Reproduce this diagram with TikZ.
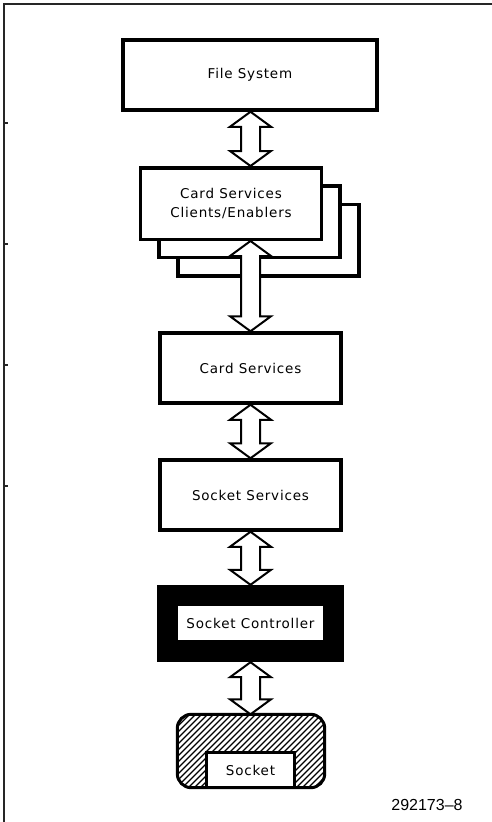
\documentclass[tikz,border=0pt]{standalone}
\usepackage{fontspec}
\setmainfont{Liberation Sans}
\newfontfamily\boxfont{DejaVu Sans}[LetterSpace=6]
\usetikzlibrary{calc}

\tikzset{
  frame/.style={draw=black!85, line width=1.5pt},
  box/.style={draw, fill=white, line width=3.5pt, inner sep=0pt,
    font=\boxfont\fontsize{13.5}{18.5}\selectfont, align=center},
  dbl/.style={draw, fill=white, line width=2pt, line join=miter},
  hatch/.style={line width=1.3pt},
}

% hollow double-headed arrow between the bottom of #1 and the top of #2
\newcommand\dblink[2]{%
  \draw[dbl] let \p1=(#1.south), \p2=(#2.north), \p3=(axis) in
    (\x3,\y1) -- (\x3+20.5pt,\y1-15pt) -- (\x3+9.5pt,\y1-15pt)
    -- (\x3+9.5pt,\y2+15pt) -- (\x3+20.5pt,\y2+15pt) -- (\x3,\y2)
    -- (\x3-20.5pt,\y2+15pt) -- (\x3-9.5pt,\y2+15pt)
    -- (\x3-9.5pt,\y1-15pt) -- (\x3-20.5pt,\y1-15pt) -- cycle;}

\begin{document}
\begin{tikzpicture}[x=1pt, y=-1pt]
\useasboundingbox (0,0) rectangle (492,822);

% page frame with margin ticks
\draw[frame] (4,822) -- (4,4) -- (492,4);
\foreach \t in {123,244,365,486} \draw[frame] (4,\t) -- (7.5,\t);

\coordinate (axis) at (250.5,0);

\node[box, minimum width=254pt, minimum height=70pt] (fs) at (250,75) {File System};

% stacked client boxes
\node[box, minimum width=181pt, minimum height=71.5pt] (cl3) at (268.5,240) {};
\node[box, minimum width=181pt, minimum height=71.5pt] (cl2) at (249.5,221.5) {};
\node[box, minimum width=181pt, minimum height=71.5pt] (cl) at (231,203.5)
  {Card Services\\Clients/Enablers};

\node[box, minimum width=181pt, minimum height=70pt] (cs) at (250.5,368) {Card Services};
\node[box, minimum width=181pt, minimum height=70pt] (ss) at (250.5,495) {Socket Services};

% socket controller: black block with a white label window
\node[fill=black, inner sep=0pt, minimum width=187pt, minimum height=77pt] (ctl) at (250.5,623.5) {};
\node[fill=white, inner sep=0pt, minimum width=145pt, minimum height=34pt,
  font=\boxfont\fontsize{13.5}{15}\selectfont] (ctlin) at (250.5,623) {Socket Controller};

% socket: hatched rounded body
\node[inner sep=0pt, minimum width=147pt, minimum height=73pt] (sock) at (251,751) {};
\begin{scope}
  \clip[rounded corners=14pt] (sock.south west) rectangle (sock.north east);
  \foreach \i in {80,86,...,340} \draw[hatch] (\i,800) -- ++(100,-100);
\end{scope}
\draw[line width=3pt, rounded corners=14pt] (sock.south west) rectangle (sock.north east);
\node[box, line width=3pt, minimum width=88pt, minimum height=35pt] (sockin) at (250.5,770) {Socket};

% links
\dblink{fs}{cl}
\dblink{cl}{cs}
\dblink{cs}{ss}
\dblink{ss}{ctl}
\dblink{ctl}{sock}

\node[font=\fontsize{16}{18}\selectfont, inner sep=0pt] (fig) at (427,805) {292173–8};
\end{tikzpicture}
\end{document}
